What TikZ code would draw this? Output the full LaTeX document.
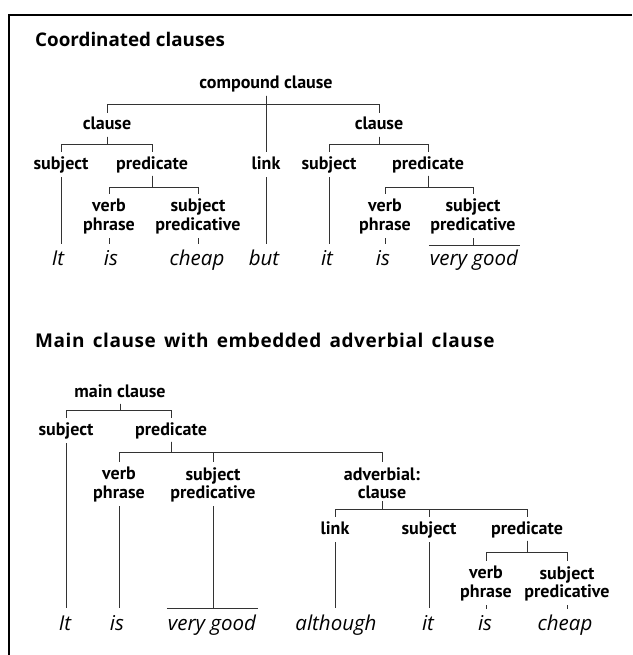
\documentclass[tikz,border=0pt]{standalone}
\usepackage{fontspec}
\setmainfont{Open Sans}
\newfontfamily\labfont{PT Sans}
\newfontfamily\widefont[LetterSpace=3,WordSpace=1.5]{Open Sans}
\begin{document}
\begin{tikzpicture}[x=1pt,y=-1pt,
  ttl/.style={font=\bfseries\fontsize{18.8}{21}\selectfont, inner sep=0pt, anchor=base west},
  ttlw/.style={font=\widefont\bfseries\fontsize{19}{21}\selectfont, inner sep=0pt, anchor=base west},
  lab/.style={font=\labfont\bfseries\fontsize{18}{18.5}\selectfont, inner sep=0pt, text height=12pt, text depth=4pt, anchor=base},
  labb/.style={font=\labfont\bfseries\fontsize{18}{18.5}\selectfont, inner sep=0pt, align=center, anchor=north},
  wd/.style={font=\itshape\fontsize{20.5}{22}\selectfont, inner sep=0pt, text height=12pt, text depth=4pt, anchor=base},
  br/.style={draw=black!80, line width=0.9pt, shorten <=2.5pt, shorten >=5pt},
  vl/.style={draw=black!80, line width=0.9pt, shorten <=4pt, shorten >=9pt},
  tk/.style={draw=black!80, line width=0.9pt, shorten <=4pt, shorten >=9pt},
  bar/.style={draw=black!80, line width=0.9pt},
  frame/.style={draw=black, line width=2pt}]
\useasboundingbox (0,0) rectangle (632,655);
\draw[frame] (9,655) -- (9,15) -- (632,15);

% ---------- Tree 1 ----------
\node[ttl] (t1) at (35,47) {Coordinated clauses};
\node[lab] (cc) at (266,89) {compound clause};
\node[lab] (cl1) at (107,130) {clause};
\node[lab] (cl2) at (379,130) {clause};
\node[lab] (su1) at (61,169) {subject};
\node[lab] (pr1) at (152,169) {predicate};
\node[lab] (lk1) at (266,169) {link};
\node[lab] (su2) at (329,169) {subject};
\node[lab] (pr2) at (428,169) {predicate};
\node[labb] (vp1) at (109,199) {verb\\phrase};
\node[labb] (sp1) at (198,199) {subject\\predicative};
\node[labb] (vp2) at (385,199) {verb\\phrase};
\node[labb] (sp2) at (473,199) {subject\\predicative};
\node[wd] (w1) at (58,265) {It};
\node[wd] (w2) at (111,265) {is};
\node[wd] (w3) at (197,265) {cheap};
\node[wd] (w4) at (264,265) {but};
\node[wd] (w5) at (327,265) {it};
\node[wd] (w6) at (383,265) {is};
\node[wd] (w7) at (474,265) {very good};

\draw[br] (cc.south) |- (cl1.north |- 0,104) -- (cl1.north);
\draw[br] (cc.south) |- (cl2.north |- 0,104) -- (cl2.north);
\draw[br] (cc.south) -- (lk1.north);
\draw[br] (cl1.south) |- (su1.north |- 0,144) -- (su1.north);
\draw[br] (cl1.south) |- (pr1.north |- 0,144) -- (pr1.north);
\draw[br] (cl2.south) |- (su2.north |- 0,144) -- (su2.north);
\draw[br] (cl2.south) |- (pr2.north |- 0,144) -- (pr2.north);
\draw[br] (pr1.south) |- (vp1.north |- 0,187) -- (vp1.north);
\draw[br] (pr1.south) |- (sp1.north |- 0,187) -- (sp1.north);
\draw[br] (pr2.south) |- (vp2.north |- 0,187) -- (vp2.north);
\draw[br] (pr2.south) |- (sp2.north |- 0,187) -- (sp2.north);
\draw[vl] (su1.south) -- (su1.south |- w1.north);
\draw[vl] (lk1.south) -- (lk1.south |- w4.north);
\draw[vl] (su2.south) -- (su2.south |- w5.north);
\draw[tk] (vp1.south) -- (vp1.south |- w2.north);
\draw[tk] (sp1.south) -- (sp1.south |- w3.north);
\draw[tk] (vp2.south) -- (vp2.south |- w6.north);
\draw[bar] ([xshift=-1pt,yshift=7pt]w7.north west) coordinate (vga) -- ([xshift=2pt,yshift=7pt]w7.north east) coordinate (vgb);
\draw[tk, shorten >=0pt] (sp2.south) -- (sp2.south |- vga);

% ---------- Tree 2 ----------
\node[ttlw] (t2) at (35,347) {Main clause with embedded adverbial clause};
\node[lab] (mc) at (120,397) {main clause};
\node[lab] (su3) at (66,435) {subject};
\node[lab] (pr3) at (171,435) {predicate};
\node[labb] (vp3) at (119,467) {verb\\phrase};
\node[labb] (sp3) at (213,467) {subject\\predicative};
\node[labb] (ad) at (382,467) {adverbial:\\clause};
\node[lab] (lk2) at (335,534) {link};
\node[lab] (su4) at (429,534) {subject};
\node[lab] (pr4) at (527,534) {predicate};
\node[labb] (vp4) at (486,566) {verb\\phrase};
\node[labb] (sp4) at (567,566) {subject\\predicative};
\node[wd] (w8) at (65,630) {It};
\node[wd] (w9) at (117,630) {is};
\node[wd] (w10) at (212,630) {very good};
\node[wd] (w11) at (336,630) {although};
\node[wd] (w12) at (428,630) {it};
\node[wd] (w13) at (485,630) {is};
\node[wd] (w14) at (565,630) {cheap};

\draw[br] (mc.south) |- (su3.north |- 0,410) -- (su3.north);
\draw[br] (mc.south) |- (pr3.north |- 0,410) -- (pr3.north);
\draw[br] (pr3.south) |- (vp3.north |- 0,452) -- (vp3.north);
\draw[br] (pr3.south) |- (sp3.north |- 0,452) -- (sp3.north);
\draw[br] (pr3.south) |- (ad.north |- 0,452) -- (ad.north);
\draw[br] (ad.south) |- (lk2.north |- 0,509) -- (lk2.north);
\draw[br] (ad.south) |- (su4.north |- 0,509) -- (su4.north);
\draw[br] (ad.south) |- (pr4.north |- 0,509) -- (pr4.north);
\draw[br] (pr4.south) |- (vp4.north |- 0,552) -- (vp4.north);
\draw[br] (pr4.south) |- (sp4.north |- 0,552) -- (sp4.north);
\draw[vl, shorten >=10pt] (su3.south) -- (su3.south |- w8.north);
\draw[vl, shorten >=10pt] (vp3.south) -- (vp3.south |- w9.north);
\draw[vl, shorten >=10pt] (lk2.south) -- (lk2.south |- w11.north);
\draw[vl, shorten >=10pt] (su4.south) -- (su4.south |- w12.north);
\draw[bar] ([xshift=-1pt,yshift=9pt]w10.north west) coordinate (vgc) -- ([xshift=2pt,yshift=9pt]w10.north east) coordinate (vgd);
\draw[vl, shorten >=0pt] (sp3.south) -- (sp3.south |- vgc);
\draw[tk] (vp4.south) -- (vp4.south |- w13.north);
\draw[tk] (sp4.south) -- (sp4.south |- w14.north);
\end{tikzpicture}
\end{document}
